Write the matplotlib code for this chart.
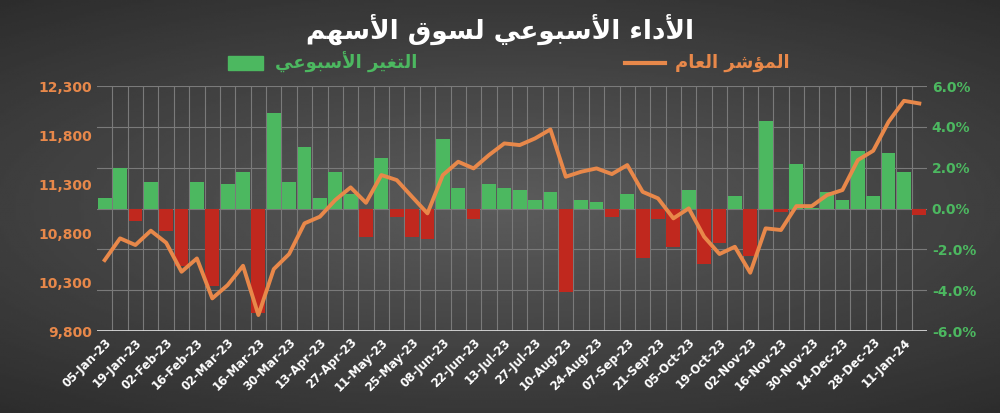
import unicodedata
import datetime as dt
import numpy as np
import matplotlib
matplotlib.use("Agg")
import matplotlib.pyplot as plt
from matplotlib.lines import Line2D
from matplotlib.patches import Rectangle

# weekly change (%) and index close
weekly_change = [0.5, 2.0, -0.6, 1.3, -1.1, -2.8, 1.3, -3.8, 1.2, 1.8,
                 -5.1, 4.7, 1.3, 3.0, 0.5, 1.8, 0.7, -1.4, 2.5, -0.4,
                 -1.4, -1.5, 3.4, 1.0, -0.5, 1.2, 1.0, 0.9, 0.4, 0.8,
                 -4.1, 0.4, 0.3, -0.4, 0.7, -2.4, -0.5, -1.9, 0.9, -2.7,
                 -1.7, 0.6, -2.3, 4.3, -0.15, 2.2, 0.05, 0.8, 0.4, 2.8,
                 0.6, 2.7, 1.8, -0.3]
index_close = [10524, 10746, 10678, 10824, 10701, 10405, 10541, 10133, 10269, 10466,
               9963, 10432, 10586, 10899, 10967, 11137, 11266, 11109, 11392, 11341,
               11170, 11001, 11392, 11528, 11460, 11596, 11715, 11698, 11766, 11858,
               11375, 11426, 11460, 11402, 11494, 11221, 11154, 10950, 11052, 10762,
               10586, 10660, 10395, 10848, 10831, 11075, 11075, 11188, 11239, 11545,
               11640, 11936, 12150, 12123]

# weekly dates, week of 29-Jun-23 missing (holiday)
dates = []
d = dt.date(2023, 1, 5)
while len(dates) < len(index_close):
    if d != dt.date(2023, 6, 29):
        dates.append(d)
    d += dt.timedelta(days=7)
tick_labels = [x.strftime("%d-%b-%y") for x in dates]

title_ar = "الأداء الأسبوعي لسوق الأسهم"
bar_label_ar = "التغير الأسبوعي"
line_label_ar = "المؤشر العام"

NO_LEFT = set("اأإآدذرزوؤءة")
LAM_ALEF = {"ا": "LAM WITH ALEF", "أ": "LAM WITH ALEF WITH HAMZA ABOVE",
            "إ": "LAM WITH ALEF WITH HAMZA BELOW", "آ": "LAM WITH ALEF WITH MADDA ABOVE"}


def is_ar(c):
    return c is not None and "\u0621" <= c <= "\u064a"


def shape(text):
    # tiny arabic shaper: presentation forms + reversed for LTR drawing
    out = []
    i = 0
    n = len(text)
    while i < n:
        c = text[i]
        if not is_ar(c):
            out.append(c)
            i += 1
            continue
        prev = text[i - 1] if i > 0 else None
        jp = is_ar(prev) and prev not in NO_LEFT and c != "ء"
        if c == "ل" and i + 1 < n and text[i + 1] in LAM_ALEF:
            form = "FINAL" if jp else "ISOLATED"
            out.append(unicodedata.lookup(f"ARABIC LIGATURE {LAM_ALEF[text[i + 1]]} {form} FORM"))
            i += 2
            continue
        nxt = text[i + 1] if i + 1 < n else None
        jn = is_ar(nxt) and c not in NO_LEFT and nxt != "ء"
        form = {(True, True): "MEDIAL", (True, False): "FINAL",
                (False, True): "INITIAL", (False, False): "ISOLATED"}[(jp, jn)]
        try:
            out.append(unicodedata.lookup(f"{unicodedata.name(c)} {form} FORM"))
        except KeyError:
            out.append(c)
        i += 1
    return "".join(out)[::-1]


GREEN = "#4cb860"
RED = "#c0281e"
ORANGE = "#e8884a"

fig = plt.figure(figsize=(10, 4.13), dpi=100)
bg = fig.add_axes([0, 0, 1, 1], zorder=-10)
yy, xx = np.mgrid[-1:1:200j, -1:1:400j]
r = np.sqrt((xx * 0.9) ** 2 + (yy * 1.1) ** 2)
bg.imshow(0.36 - 0.13 * r, cmap="gray", vmin=0, vmax=1, aspect="auto", extent=[0, 1, 0, 1])
bg.axis("off")

ax = fig.add_axes([0.097, 0.1985, 0.83, 0.593])
ax.patch.set_alpha(0)
x = np.arange(len(weekly_change))
colors = [GREEN if v >= 0 else RED for v in weekly_change]
ax.bar(x, weekly_change, width=0.9, color=colors, zorder=2)
ax.set_xlim(-0.5, len(x) - 0.5)
ax.set_ylim(-6, 6)
ax.set_xticks(x[::2])
ax.set_xticklabels(tick_labels[::2], rotation=45, ha="right", rotation_mode="anchor",
                   color="white", fontweight="bold", fontsize=8.5)
ax.set_xticks(x[:-1] + 0.5, minor=True)
ax.grid(True, which="minor", axis="x", color="#7a7a7a", lw=0.8, zorder=0)
ax.grid(True, which="major", axis="y", color="#7a7a7a", lw=0.8, zorder=0)
for s in ax.spines.values():
    s.set_visible(False)

ax2 = ax.twinx()
ax.yaxis.tick_right()
ax.set_yticks(np.arange(-6, 6.1, 2))
ax.set_yticklabels([f"{v:.1f}%" for v in np.arange(-6, 6.1, 2)], color=GREEN,
                   fontweight="bold", fontsize=10)
ax.tick_params(length=0, which="both")
ax2.yaxis.tick_left()
ax2.plot(x, index_close, color=ORANGE, lw=2.8, zorder=3)
ax2.set_ylim(9800, 12300)
ax2.set_yticks(np.arange(9800, 12301, 500))
ax2.set_yticklabels([f"{v:,}" for v in range(9800, 12301, 500)], color=ORANGE,
                    fontweight="bold", fontsize=10)
ax2.tick_params(length=0)
for s in ax2.spines.values():
    s.set_visible(False)
ax2.axhline(9800, color="#d9d9d9", lw=2)

fig.text(0.5, 0.93, shape(title_ar), ha="center", va="center", color="white",
         fontsize=19, fontweight="bold", family="DejaVu Sans")
fig.patches.append(Rectangle((0.228, 0.83), 0.035, 0.035, color=GREEN, transform=fig.transFigure))
fig.text(0.275, 0.848, shape(bar_label_ar), ha="left", va="center", color=GREEN,
         fontsize=13, fontweight="bold")
fig.lines.append(Line2D([0.625, 0.665], [0.848, 0.848], color=ORANGE, lw=3, transform=fig.transFigure))
fig.text(0.675, 0.848, shape(line_label_ar), ha="left", va="center", color=ORANGE,
         fontsize=13, fontweight="bold")

fig.savefig("out.png", dpi=100)
